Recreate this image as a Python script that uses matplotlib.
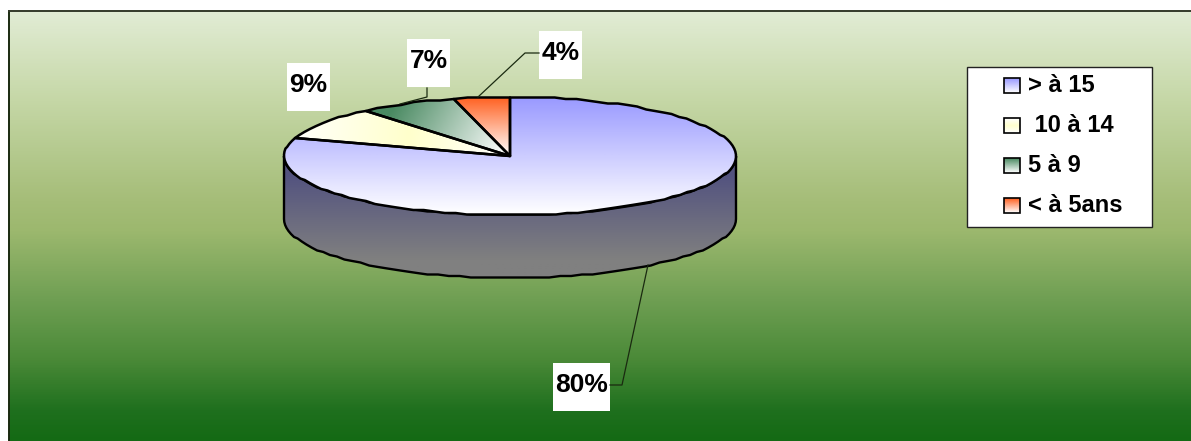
import numpy as np
import matplotlib
matplotlib.use('Agg')
import matplotlib.pyplot as plt
from matplotlib.colors import LinearSegmentedColormap
from matplotlib.patches import Polygon, Rectangle

plt.rcParams['font.family'] = ['Liberation Sans', 'DejaVu Sans']

categories = ['> à 15', ' 10 à 14', '5 à 9', '< à 5ans']
percents = [80, 9, 7, 4]
pct_labels = ['80%', '9%', '7%', '4%']

W, H = 1191, 441
CX, CY, RX, RY, DEPTH = 510, 156, 226, 59, 63

fig = plt.figure(figsize=(W / 100, H / 100), dpi=100)
ax = fig.add_axes([0, 0, 1, 1])
ax.set_xlim(0, W)
ax.set_ylim(H, 0)
ax.axis('off')


def gradient_fill(pts, stops, start, end, zorder=2):
    # linear gradient between two points, clipped to the polygon
    pts = np.asarray(pts)
    x0, y0 = pts.min(axis=0) - 2
    x1, y1 = pts.max(axis=0) + 2
    xx, yy = np.meshgrid(np.arange(x0, x1 + 1), np.arange(y0, y1 + 1))
    dx, dy = end[0] - start[0], end[1] - start[1]
    t = ((xx - start[0]) * dx + (yy - start[1]) * dy) / (dx * dx + dy * dy)
    cmap = LinearSegmentedColormap.from_list('g', stops)
    im = ax.imshow(np.clip(t, 0, 1), cmap=cmap, vmin=0, vmax=1, extent=(x0, x1, y1, y0),
                   aspect='auto', zorder=zorder, interpolation='bilinear')
    clip = Polygon(pts, closed=True, transform=ax.transData, fc='none', ec='none')
    ax.add_patch(clip)
    im.set_clip_path(clip)
    ax.set_xlim(0, W)
    ax.set_ylim(H, 0)


def rim(theta):
    # theta runs clockwise from 12 o'clock; y snapped to a small grid for the rough metafile edge
    x = CX + RX * np.sin(theta)
    y = CY - RY * np.cos(theta)
    return np.column_stack([x, np.round(y / 1.5) * 1.5])


# chart area background, runs off the right and bottom of the image
bg = [(9, 12), (W + 2, 12), (W + 2, H + 2), (9, H + 2)]
gradient_fill(bg, [(0, '#e1ecd4'), (0.205, '#c5d7a6'), (0.44, '#a5bd78'), (0.51, '#9cb86e'),
                   (0.67, '#6f9f53'), (0.81, '#4b8a38'), (0.93, '#1f701e'), (1, '#146a14')],
              (0, 12), (0, 441), zorder=0)
ax.plot([9, 9], [H + 2, 11], color='#1a2a10', lw=1.4, zorder=1)
ax.plot([9, W + 2], [11, 11], color='#333a2a', lw=1.4, zorder=1)

# side wall of the disc, front half only
front = np.linspace(np.pi / 2, 3 * np.pi / 2, 64)
top_edge = rim(front)
wall = np.vstack([top_edge, (top_edge + [0, DEPTH])[::-1]])
gradient_fill(wall, [(0, '#53537f'), (1, '#808080')], (0, CY + 20), (0, CY + 105), zorder=2)
ax.add_patch(Polygon(wall, closed=True, fc='none', ec='black', lw=1.7, zorder=3))

# top face slices, clockwise from 12 o'clock
slice_styles = [
    ([(0, '#9999ff'), (1, '#ffffff')], (0, 97), (0, 215)),
    ([(0, '#ffffff'), (0.55, '#ffffcc'), (1, '#ffffff')], (285, 120), (510, 150)),
    ([(0, '#4a8a62'), (1, '#ffffff')], (400, 95), (505, 155)),
    ([(0, '#ff6020'), (1, '#ffffff')], (0, 97), (0, 156)),
]
edges = np.cumsum([0] + percents) / np.sum(percents) * 2 * np.pi
for i, (stops, start, end) in enumerate(slice_styles):
    n = max(4, int((edges[i + 1] - edges[i]) / (2 * np.pi) * 128))
    arc = rim(np.linspace(edges[i], edges[i + 1], n))
    pts = np.vstack([[CX, CY], arc])
    gradient_fill(pts, stops, start, end, zorder=4)
    ax.add_patch(Polygon(pts, closed=True, fc='none', ec='black', lw=1.8, joinstyle='round', zorder=5))

# value labels with their leader lines
label_boxes = {'80%': (553, 363), '9%': (287, 63), '7%': (407, 39), '4%': (539, 31)}
leaders = {'80%': [(648, 265), (622, 385), (610, 385)],
           '7%': [(400, 104), (427, 97), (427, 88)],
           '4%': [(478, 97), (525, 53), (539, 53)]}
for lab in pct_labels:
    x, y = label_boxes[lab]
    w = 57 if lab == '80%' else 43
    ax.add_patch(Rectangle((x, y), w, 48, fc='white', ec='none', zorder=6))
    ax.text(x + w / 2, y + 22, lab, fontsize=19, fontweight='bold', ha='center', va='center',
            color='black', zorder=8)
    if lab in leaders:
        lx, ly = zip(*leaders[lab])
        ax.plot(lx, ly, color='#1a2a10', lw=0.9, zorder=7)

# legend
ax.add_patch(Rectangle((967, 67), 185, 160, fc='white', ec='#222222', lw=1.0, zorder=6))
swatch_colors = ['#9999ff', '#ffffcc', '#4a8a62', '#ff6020']
for i, (cat, col) in enumerate(zip(categories, swatch_colors)):
    y = 85 + 40 * i
    box = [(1004, y - 7), (1020, y - 7), (1020, y + 8), (1004, y + 8)]
    if i == 1:
        stops = [(0, '#ffffff'), (0.5, col), (1, '#ffffff')]
    else:
        stops = [(0, col), (1, '#ffffff')]
    gradient_fill(box, stops, (0, y - 7), (0, y + 8), zorder=7)
    ax.add_patch(Rectangle((1004, y - 7), 16, 15, fc='none', ec='black', lw=1.2, zorder=8))
    ax.text(1028, y, cat, fontsize=17, fontweight='bold', ha='left', va='center', color='black', zorder=8)

fig.savefig('out.png', dpi=100)
